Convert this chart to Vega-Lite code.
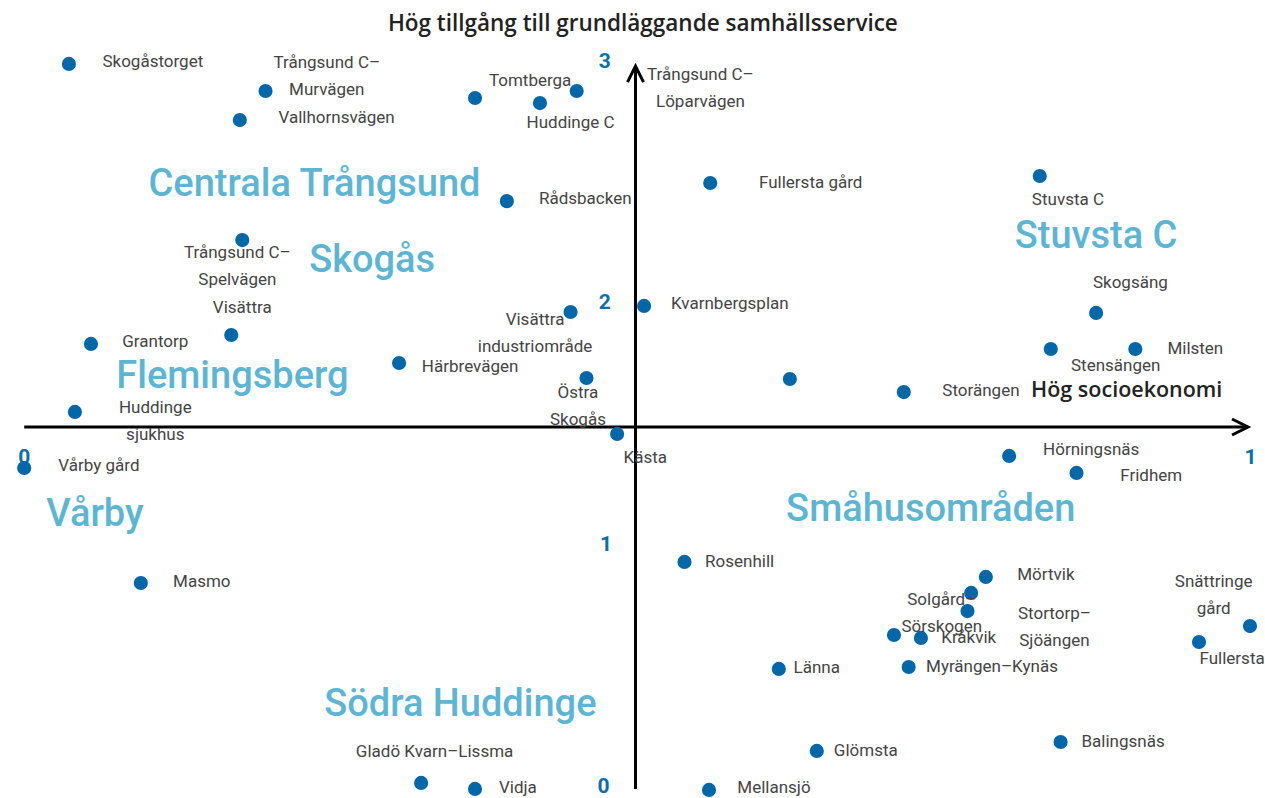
{
  "$schema": "https://vega.github.io/schema/vega-lite/v6.json",
  "width": 1265,
  "height": 798,
  "autosize": {"type": "fit", "contains": "padding"},
  "padding": 0,
  "background": "white",
  "config": {"view": {"stroke": null}},
  "datasets": {
    "points": [
      {"name":"Skogåstorget","x":0.0375,"y":2.988,"label":"Skogåstorget","lx":0.106,"ly":2.996},
      {"name":"Trångsund C–Murvägen","x":0.198,"y":2.876,"label":["Trångsund C–","Murvägen"],"lx":0.248,"ly":2.992},
      {"name":"Vallhornsvägen","x":0.177,"y":2.756,"label":"Vallhornsvägen","lx":0.256,"ly":2.764},
      {"name":"Tomtberga","x":0.369,"y":2.847,"label":"Tomtberga","lx":0.414,"ly":2.917},
      {"name":"Huddinge C","x":0.422,"y":2.826,"label":"Huddinge C","lx":0.447,"ly":2.744},
      {"name":"Trångsund C–Löparvägen","x":0.452,"y":2.876,"label":["Trångsund C–","Löparvägen"],"lx":0.553,"ly":2.942},
      {"name":"Fullersta gård","x":0.561,"y":2.496,"label":"Fullersta gård","lx":0.643,"ly":2.496},
      {"name":"Rådsbacken","x":0.395,"y":2.421,"label":"Rådsbacken","lx":0.459,"ly":2.430},
      {"name":"Stuvsta C","x":0.830,"y":2.525,"label":"Stuvsta C","lx":0.853,"ly":2.426},
      {"name":"Trångsund C–Spelvägen","x":0.179,"y":2.260,"label":["Trångsund C–","Spelvägen"],"lx":0.175,"ly":2.207},
      {"name":"Grantorp","x":0.0555,"y":1.831,"label":"Grantorp","lx":0.108,"ly":1.839},
      {"name":"Visättra","x":0.170,"y":1.868,"label":"Visättra","lx":0.179,"ly":1.979},
      {"name":"Härbrevägen","x":0.307,"y":1.752,"label":"Härbrevägen","lx":0.365,"ly":1.736},
      {"name":"Huddinge sjukhus","x":0.0424,"y":1.550,"label":["Huddinge","sjukhus"],"lx":0.108,"ly":1.566},
      {"name":"Vårby gård","x":0.001,"y":1.318,"label":"Vårby gård","lx":0.062,"ly":1.326},
      {"name":"Visättra industriområde","x":0.447,"y":1.963,"label":["Visättra","industriområde"],"lx":0.418,"ly":1.930},
      {"name":"Kvarnbergsplan","x":0.507,"y":1.988,"label":"Kvarnbergsplan","lx":0.577,"ly":1.996},
      {"name":"Östra Skogås","x":0.460,"y":1.690,"label":["Östra","Skogås"],"lx":0.453,"ly":1.628},
      {"name":"Kästa","x":0.485,"y":1.459,"label":"Kästa","lx":0.508,"ly":1.360},
      {"name":null,"x":0.626,"y":1.686},
      {"name":"Skogsäng","x":0.876,"y":1.959,"label":"Skogsäng","lx":0.904,"ly":2.083},
      {"name":"Stensängen","x":0.839,"y":1.810,"label":"Stensängen","lx":0.892,"ly":1.740},
      {"name":"Milsten","x":0.908,"y":1.810,"label":"Milsten","lx":0.957,"ly":1.810},
      {"name":"Storängen","x":0.719,"y":1.632,"label":"Storängen","lx":0.782,"ly":1.636},
      {"name":"Hörningsnäs","x":0.805,"y":1.368,"label":"Hörningsnäs","lx":0.872,"ly":1.393},
      {"name":"Fridhem","x":0.860,"y":1.298,"label":"Fridhem","lx":0.921,"ly":1.285},
      {"name":"Masmo","x":0.0962,"y":0.843,"label":"Masmo","lx":0.146,"ly":0.847},
      {"name":"Rosenhill","x":0.540,"y":0.930,"label":"Rosenhill","lx":0.585,"ly":0.930},
      {"name":"Länna","x":0.617,"y":0.488,"label":"Länna","lx":0.648,"ly":0.492},
      {"name":"Glömsta","x":0.648,"y":0.149,"label":"Glömsta","lx":0.688,"ly":0.149},
      {"name":"Vidja","x":0.369,"y":-0.008,"label":"Vidja","lx":0.404,"ly":-0.004},
      {"name":"Gladö Kvarn–Lissma","x":0.325,"y":0.017,"label":"Gladö Kvarn–Lissma","lx":0.336,"ly":0.145},
      {"name":"Mellansjö","x":0.560,"y":-0.012,"label":"Mellansjö","lx":0.613,"ly":-0.004},
      {"name":"Mörtvik","x":0.786,"y":0.868,"label":"Mörtvik","lx":0.835,"ly":0.876},
      {"name":null,"x":0.774,"y":0.802},
      {"name":"Stortorp–Sjöängen","x":0.771,"y":0.727,"label":["Stortorp–","Sjöängen"],"lx":0.842,"ly":0.715},
      {"name":"Solgård–Sörskogen","x":0.711,"y":0.628,"label":["Solgård–","Sörskogen"],"lx":0.750,"ly":0.773},
      {"name":"Kråkvik","x":0.733,"y":0.616,"label":"Kråkvik","lx":0.772,"ly":0.616},
      {"name":"Myrängen–Kynäs","x":0.723,"y":0.496,"label":"Myrängen–Kynäs","lx":0.791,"ly":0.496},
      {"name":"Snättringe gård","x":1.0016,"y":0.665,"label":["Snättringe","gård"],"lx":0.972,"ly":0.847},
      {"name":"Fullersta","x":0.960,"y":0.599,"label":"Fullersta","lx":0.987,"ly":0.529},
      {"name":"Balingsnäs","x":0.847,"y":0.186,"label":"Balingsnäs","lx":0.898,"ly":0.186}
    ],
    "groups": [
      {"text":"Centrala Trångsund","x":0.238,"y":2.488},
      {"text":"Skogås","x":0.285,"y":2.174},
      {"text":"Flemingsberg","x":0.171,"y":1.694},
      {"text":"Vårby","x":0.0587,"y":1.124},
      {"text":"Stuvsta C","x":0.876,"y":2.273},
      {"text":"Småhusområden","x":0.741,"y":1.145},
      {"text":"Södra Huddinge","x":0.357,"y":0.339}
    ],
    "titles": [
      {"axis":"y","text":"Hög tillgång till grundläggande samhällsservice","x":0.506,"y":3.153},
      {"axis":"x","text":"Hög socioekonomi","x":0.901,"y":1.636}
    ],
    "ticks": [
      {"text":"3","x":0.475,"y":2.996},
      {"text":"2","x":0.475,"y":2.0},
      {"text":"1","x":0.476,"y":1.0},
      {"text":"0","x":0.474,"y":0.0},
      {"text":"0","x":0.001,"y":1.36},
      {"text":"1","x":1.002,"y":1.36}
    ],
    "axes": [
      {"axis":"x","x":0.001,"x2":1.0,"y":1.4876,"y2":1.4876},
      {"axis":"y","x":0.5,"x2":0.5,"y":-0.008,"y2":2.979}
    ]
  },
  "encoding": {
    "x": {"field":"x","type":"quantitative","scale":{"domain":[-0.01876,1.01305],"nice":false,"zero":false},"axis":null},
    "y": {"field":"y","type":"quantitative","scale":{"domain":[-0.04545,3.2521],"nice":false,"zero":false},"axis":null}
  },
  "layer": [
    {
      "data": {"name":"axes"},
      "mark": {"type":"rule","color":"black","strokeWidth":3},
      "encoding": {"x2":{"field":"x2"},"y2":{"field":"y2"}}
    },
    {
      "data": {"name":"axes"},
      "transform": [{"filter":"datum.axis === 'x'"}],
      "mark": {"type":"point","shape":"M-2,-1L0,0L-2,1","filled":false,"stroke":"black","strokeWidth":3,"size":256,"opacity":1},
      "encoding": {"x":{"field":"x2","type":"quantitative"},"y":{"field":"y2","type":"quantitative"}}
    },
    {
      "data": {"name":"axes"},
      "transform": [{"filter":"datum.axis === 'y'"}],
      "mark": {"type":"point","shape":"M-1,2L0,0L1,2","filled":false,"stroke":"black","strokeWidth":3,"size":256,"opacity":1},
      "encoding": {"x":{"field":"x2","type":"quantitative"},"y":{"field":"y2","type":"quantitative"}}
    },
    {
      "data": {"name":"ticks"},
      "mark": {"type":"text","font":"Roboto","fontSize":21,"fontWeight":"bold","color":"#0b6fad","align":"center","baseline":"middle"},
      "encoding": {"text":{"field":"text"}}
    },
    {
      "data": {"name":"groups"},
      "mark": {"type":"text","font":"Roboto","fontSize":38,"fontWeight":500,"color":"#5cb6d3","align":"center","baseline":"middle"},
      "encoding": {"text":{"field":"text"}}
    },
    {
      "data": {"name":"titles"},
      "transform": [{"filter":"datum.axis === 'y'"}],
      "mark": {"type":"text","font":"Open Sans","fontSize":22.5,"fontWeight":600,"color":"#222222","align":"center","baseline":"middle"},
      "encoding": {"text":{"field":"text"}}
    },
    {
      "data": {"name":"titles"},
      "transform": [{"filter":"datum.axis === 'x'"}],
      "mark": {"type":"text","font":"Open Sans","fontSize":21.5,"fontWeight":600,"color":"#222222","align":"center","baseline":"middle"},
      "encoding": {"text":{"field":"text"}}
    },
    {
      "data": {"name":"points"},
      "mark": {"type":"circle","size":200,"color":"#0068a8","opacity":1},
      "encoding": {"tooltip":{"field":"name"}}
    },
    {
      "data": {"name":"points"},
      "transform": [{"filter":"isValid(datum.label)"}],
      "mark": {"type":"text","font":"Roboto","fontSize":17,"color":"#444444","align":"center","baseline":"middle","lineHeight":27},
      "encoding": {
        "x": {"field":"lx","type":"quantitative"},
        "y": {"field":"ly","type":"quantitative"},
        "text": {"field":"label"}
      }
    }
  ]
}
